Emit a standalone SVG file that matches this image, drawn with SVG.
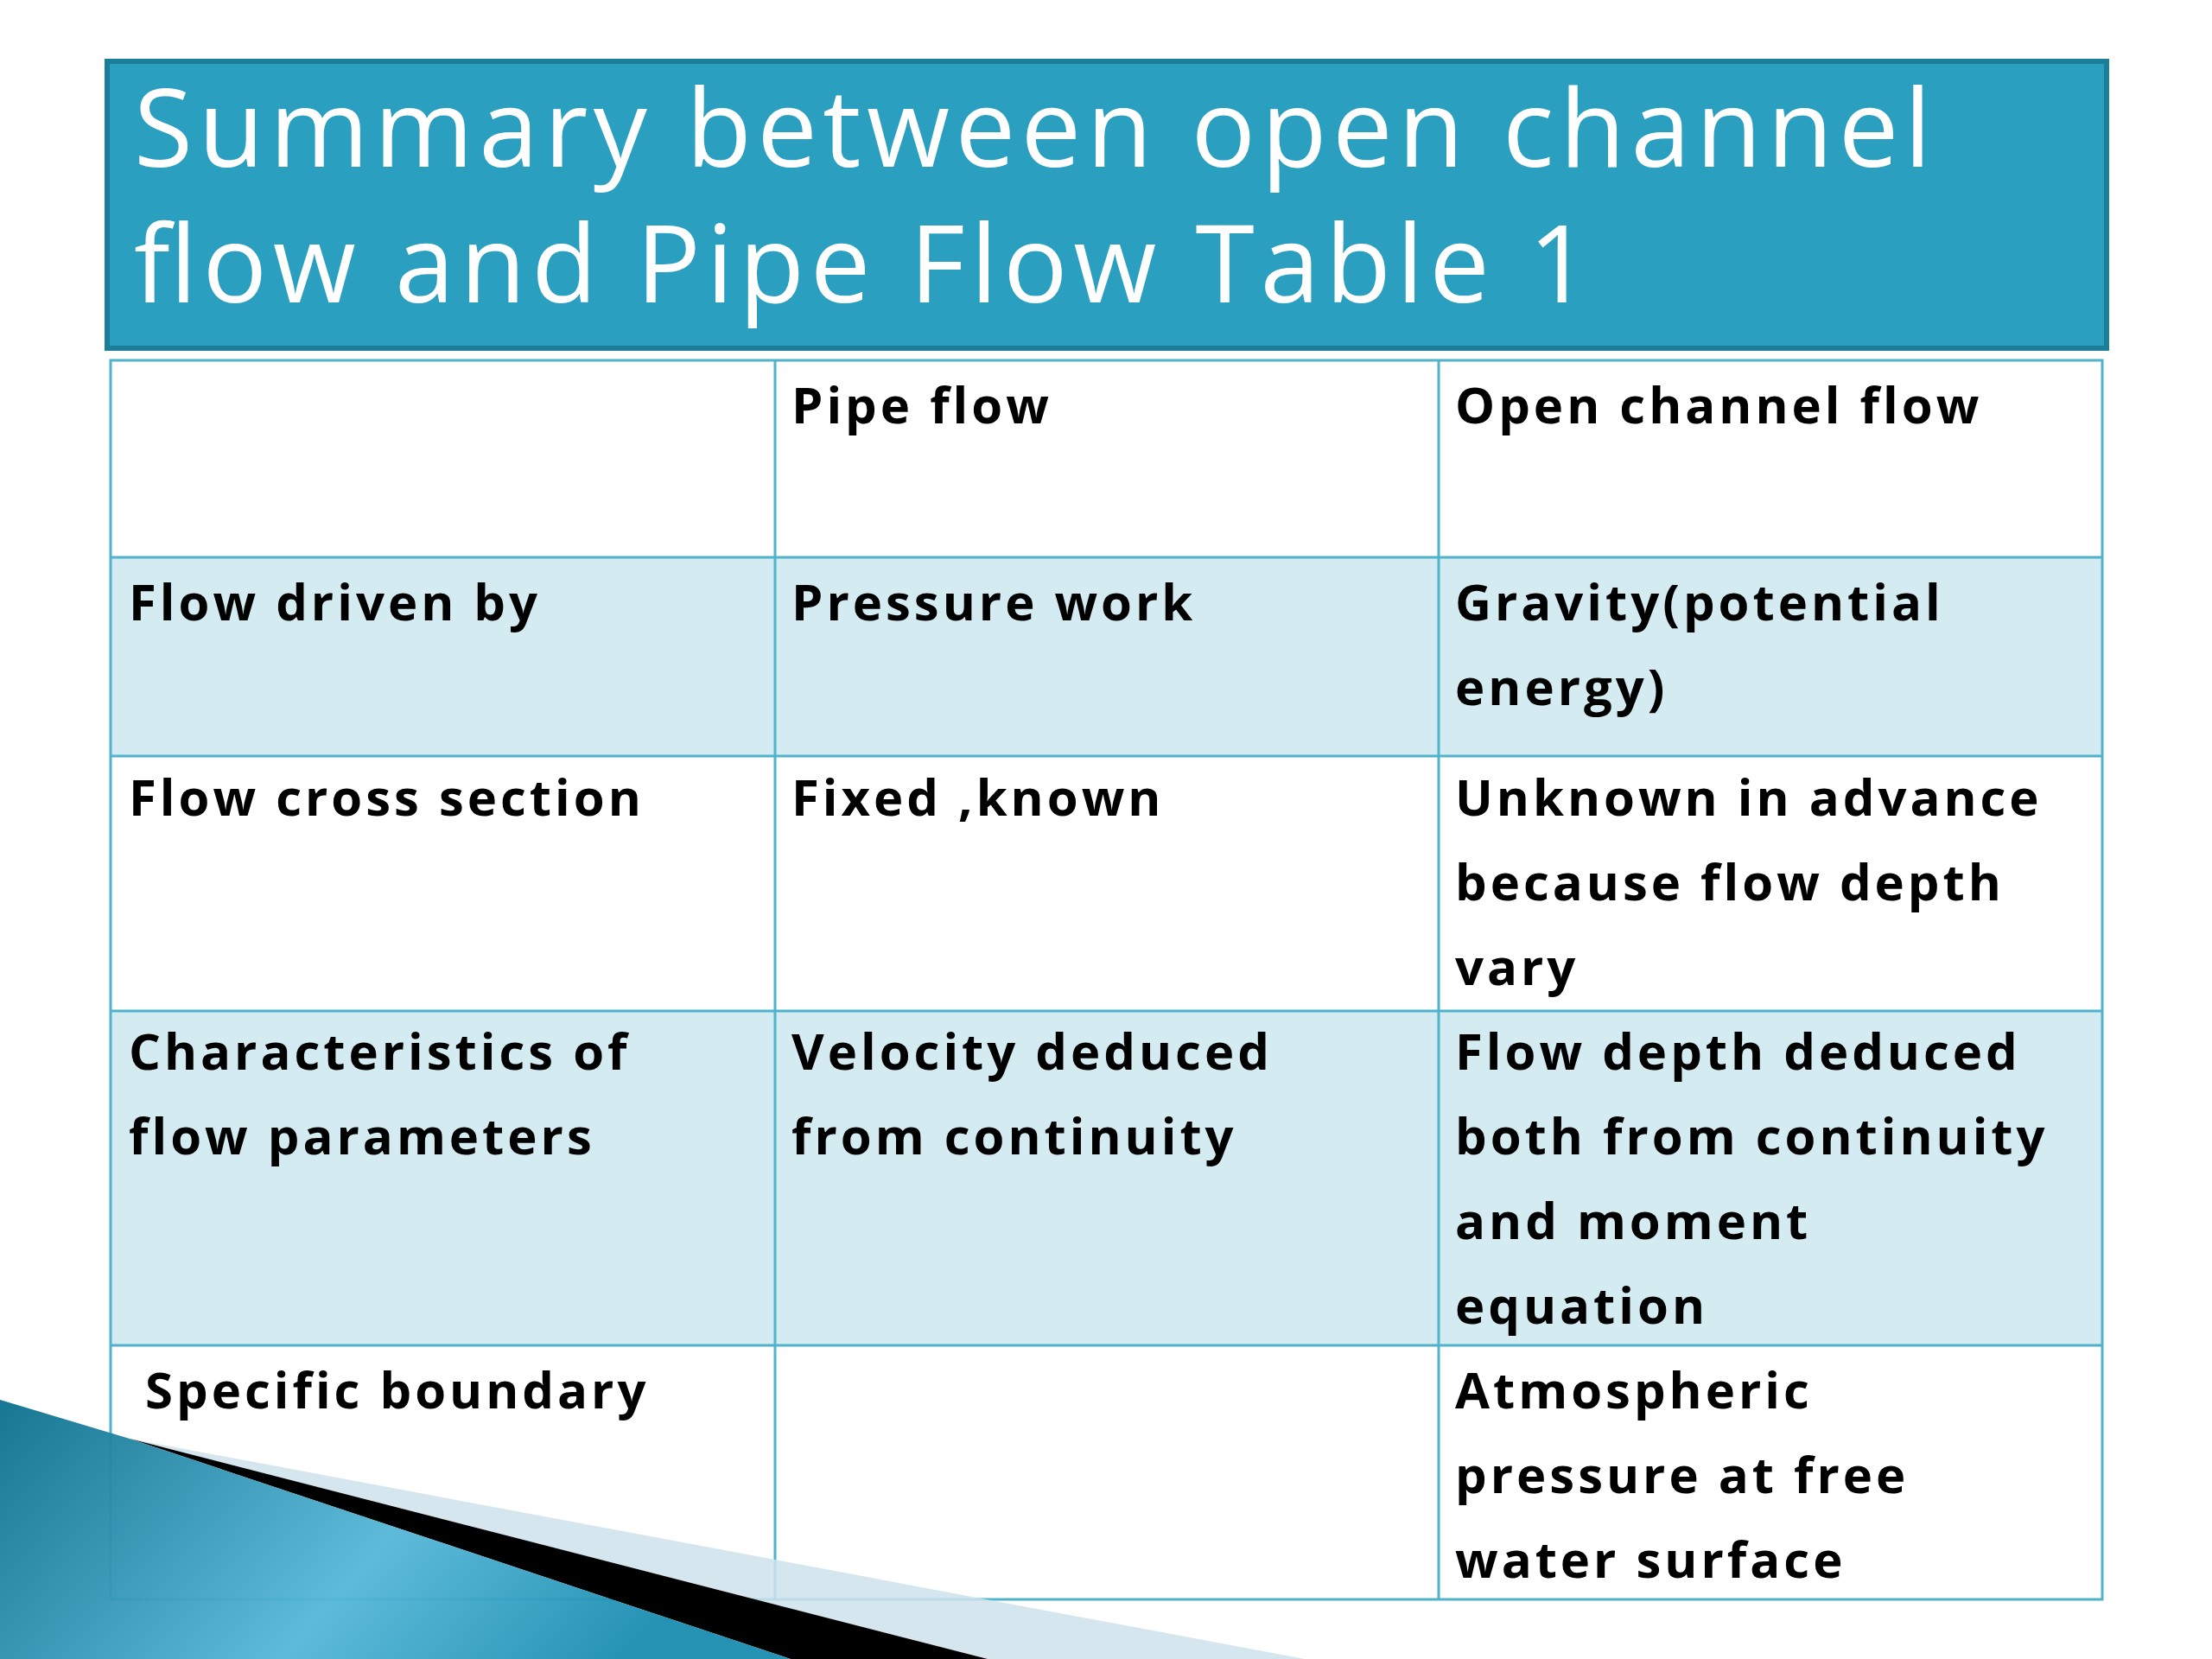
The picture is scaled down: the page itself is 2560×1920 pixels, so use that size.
<svg xmlns="http://www.w3.org/2000/svg" width="2560" height="1920" viewBox="0 0 2560 1920">
<defs>
<linearGradient id="bg" x1="0" y1="0" x2="1" y2="0.3">
<stop offset="0" stop-color="#0b6f8c"/><stop offset="0.6" stop-color="#55b7d8"/><stop offset="1" stop-color="#1a8db0"/>
</linearGradient>
<style>
.c{font-family:"Open Sans","Noto Sans",sans-serif;font-weight:bold;font-size:58px;letter-spacing:4px;fill:#000}
.t{font-family:"Open Sans","Noto Sans",sans-serif;font-size:124px;fill:#fff}
.g{fill:none;stroke:#4fb3cc;stroke-width:3}
</style>
</defs>
<rect width="2560" height="1920" fill="#fff"/>
<g id="title">
<rect x="124" y="71" width="2314" height="332" fill="#2a9fc0" stroke="#1c7d98" stroke-width="6"/>
<text class="t" x="155" y="193" textLength="2080">Summary between open channel</text>
<text class="t" x="155" y="350" textLength="1685">flow and Pipe Flow Table 1</text>
</g>
<g id="table">
<rect x="128" y="645" width="2305" height="230" fill="#d5ebf2"/>
<rect x="128" y="1170" width="2305" height="387" fill="#d5ebf2"/>
<rect class="g" x="128" y="417" width="2305" height="1434"/>
<path class="g" d="M897 417V1851M1665 417V1851M128 645H2433M128 875H2433M128 1170H2433M128 1557H2433"/>
</g>
<g id="cells">
<text class="c" x="916" y="490">Pipe flow</text>
<text class="c" x="1684" y="490">Open channel flow</text>
<text class="c" x="149" y="718">Flow driven by</text>
<text class="c" x="916" y="718">Pressure work</text>
<text class="c" x="1684" y="718">Gravity(potential</text>
<text class="c" x="1684" y="816">energy)</text>
<text class="c" x="149" y="944">Flow cross section</text>
<text class="c" x="916" y="944">Fixed ,known</text>
<text class="c" x="1684" y="944">Unknown in advance</text>
<text class="c" x="1684" y="1042">because flow depth</text>
<text class="c" x="1684" y="1140">vary</text>
<text class="c" x="149" y="1238">Characteristics of</text>
<text class="c" x="149" y="1336">flow parameters</text>
<text class="c" x="916" y="1238">Velocity deduced</text>
<text class="c" x="916" y="1336">from continuity</text>
<text class="c" x="1684" y="1238">Flow depth deduced</text>
<text class="c" x="1684" y="1336">both from continuity</text>
<text class="c" x="1684" y="1434">and moment</text>
<text class="c" x="1684" y="1532">equation</text>
<text class="c" x="168" y="1630">Specific boundary</text>
<text class="c" x="1684" y="1630">Atmospheric</text>
<text class="c" x="1684" y="1728">pressure at free</text>
<text class="c" x="1684" y="1826">water surface</text>
</g>
<g id="decoration">
<polygon points="150,1665 1510,1920 1143,1920" fill="#cfe2ec" opacity="0.85"/>
<polygon points="150,1665 1143,1920 915,1920" fill="#000"/>
<polygon points="0,1620 150,1665 915,1920 0,1920" fill="url(#bg)" opacity="0.95"/>
</g>
</svg>
